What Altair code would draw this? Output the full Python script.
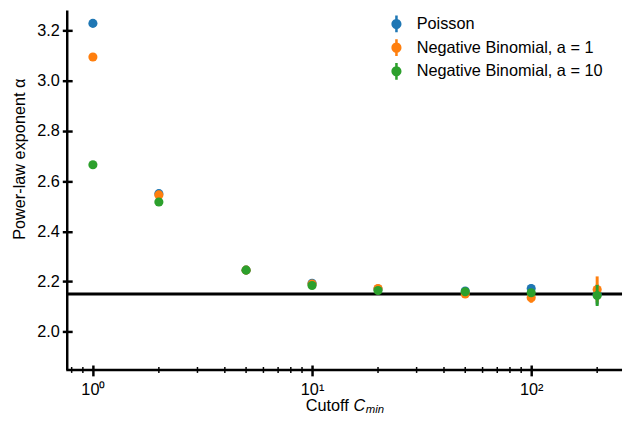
import altair as alt
import pandas as pd

# ---------------- data ----------------
cutoffs = [1, 2, 5, 10, 20, 50, 100, 200]
series = ["Poisson", "Negative Binomial, a = 1", "Negative Binomial, a = 10"]
colors = ["#1f77b4", "#ff7f0e", "#2ca02c"]

poisson = [3.229, 2.550, 2.245, 2.193, 2.170, 2.162, 2.172, 2.148]
poisson_err = [0.004, 0.004, 0.004, 0.005, 0.006, 0.010, 0.016, 0.040]
nb1 = [3.095, 2.545, 2.245, 2.190, 2.172, 2.150, 2.135, 2.168]
nb1_err = [0.004, 0.004, 0.005, 0.006, 0.008, 0.012, 0.020, 0.052]
nb10 = [2.665, 2.517, 2.245, 2.184, 2.164, 2.159, 2.155, 2.144]
nb10_err = [0.004, 0.004, 0.004, 0.005, 0.006, 0.016, 0.014, 0.042]

reference_alpha = [2.15]
x_major = [1, 10, 100]
x_minor = [0.8, 0.9, 2, 3, 4, 5, 6, 7, 8, 9, 20, 30, 40, 50, 60, 70, 80, 90, 200]
y_ticks = [2.0, 2.2, 2.4, 2.6, 2.8, 3.0, 3.2]

# ---------------- layout ----------------
W, H = 562, 364
FONT = "Liberation Sans"
FS = 16.5

rows = []
for name, vals, errs in zip(series, [poisson, nb1, nb10], [poisson_err, nb1_err, nb10_err]):
    for c, v, e in zip(cutoffs, vals, errs):
        rows.append({"series": name, "cutoff": c, "alpha": v, "lo": v - e, "hi": v + e})
df = pd.DataFrame(rows)

xscale = alt.Scale(type="log", domain=[0.7636, 259.7], nice=False)
yscale = alt.Scale(domain=[1.847, 3.28], nice=False, zero=False)

xaxis = alt.Axis(
    values=x_major, title=None, domain=False, grid=False, offset=-5,
    tickSize=11, tickWidth=2.5, tickColor="black",
    labelExpr="datum.value < 5 ? '10⁰' : datum.value < 50 ? '10¹' : '10²'",
    labelFont=FONT, labelFontSize=FS, labelColor="black", labelPadding=6,
)
yaxis = alt.Axis(
    values=y_ticks, format=".1f", title="Power-law exponent α", domain=False, grid=False,
    offset=-5, tickSize=10, tickWidth=2.5, tickColor="black",
    labelFont=FONT, labelFontSize=FS, labelColor="black", labelPadding=3,
    titleFont=FONT, titleFontSize=FS, titleFontWeight="normal", titleColor="black",
    titleAngle=270, titleX=-53, titleY=150, titleAlign="center", titleBaseline="middle",
)

symbol_path = ("M-0.15,-1 L0.15,-1 L0.15,1 L-0.15,1 Z "
               "M0.6,0 A0.6,0.6 0 1,1 -0.6,0 A0.6,0.6 0 1,1 0.6,0 Z")

color = alt.Color(
    "series:N",
    scale=alt.Scale(domain=series, range=colors),
    sort=series,
    legend=alt.Legend(
        orient="none", legendX=325, legendY=5, title=None, padding=0,
        symbolType=symbol_path, symbolSize=289, symbolStrokeWidth=0, symbolOpacity=1,
        labelFont=FONT, labelFontSize=FS, labelColor="black", labelOffset=12,
        labelLimit=0, rowPadding=7,
    ),
)

hline = alt.Chart(pd.DataFrame({"alpha": reference_alpha})).mark_rule(
    color="black", strokeWidth=3
).encode(y=alt.Y("alpha:Q", scale=yscale, axis=yaxis))

layers = [hline]
for name in series:
    base = alt.Chart(df).transform_filter(alt.datum.series == name)
    err = base.mark_rule(strokeWidth=3).encode(
        x=alt.X("cutoff:Q", scale=xscale, axis=xaxis),
        y=alt.Y("lo:Q", scale=yscale, axis=yaxis),
        y2="hi:Q",
        color=color,
    )
    pts = base.mark_circle(size=85, opacity=1).encode(
        x=alt.X("cutoff:Q", scale=xscale, axis=xaxis),
        y=alt.Y("alpha:Q", scale=yscale, axis=yaxis),
        color=color,
    )
    layers += [err, pts]

minor = alt.Chart(pd.DataFrame({"cutoff": x_minor})).mark_rule(
    color="black", strokeWidth=1.5
).encode(
    x=alt.X("cutoff:Q", scale=xscale, axis=xaxis),
    y=alt.value(H - 3), y2=alt.value(H + 3),
)

spine_left = alt.Chart(pd.DataFrame({"a": [0]})).mark_rule(color="black", strokeWidth=2.5).encode(
    x=alt.value(0), y=alt.value(0), y2=alt.value(H)
)
spine_bottom = alt.Chart(pd.DataFrame({"a": [0]})).mark_rule(color="black", strokeWidth=2.5).encode(
    x=alt.value(-1), x2=alt.value(W), y=alt.value(H)
)

tx0 = W / 2 - 39.5
t_cut = alt.Chart(pd.DataFrame({"t": ["Cutoff"]})).mark_text(
    font=FONT, fontSize=FS, align="left", baseline="alphabetic", color="black"
).encode(text="t:N", x=alt.value(tx0), y=alt.value(H + 41.5))
t_c = alt.Chart(pd.DataFrame({"t": ["C"]})).mark_text(
    font=FONT, fontSize=FS, fontStyle="italic", align="left", baseline="alphabetic", color="black"
).encode(text="t:N", x=alt.value(tx0 + 48.6), y=alt.value(H + 41.5))
t_min = alt.Chart(pd.DataFrame({"t": ["min"]})).mark_text(
    font=FONT, fontSize=11.5, fontStyle="italic", align="left", baseline="alphabetic", color="black"
).encode(text="t:N", x=alt.value(tx0 + 61), y=alt.value(H + 43.5))

chart = alt.layer(
    *layers, minor, spine_left, spine_bottom, t_cut, t_c, t_min
).properties(
    width=W, height=H,
    autosize=alt.AutoSizeParams(type="none"),
    padding={"left": 60, "top": 0, "right": 2, "bottom": 43},
    background="white",
).configure_view(stroke=None)

chart.save("out.html", embed_options={"renderer": "svg", "actions": False})
